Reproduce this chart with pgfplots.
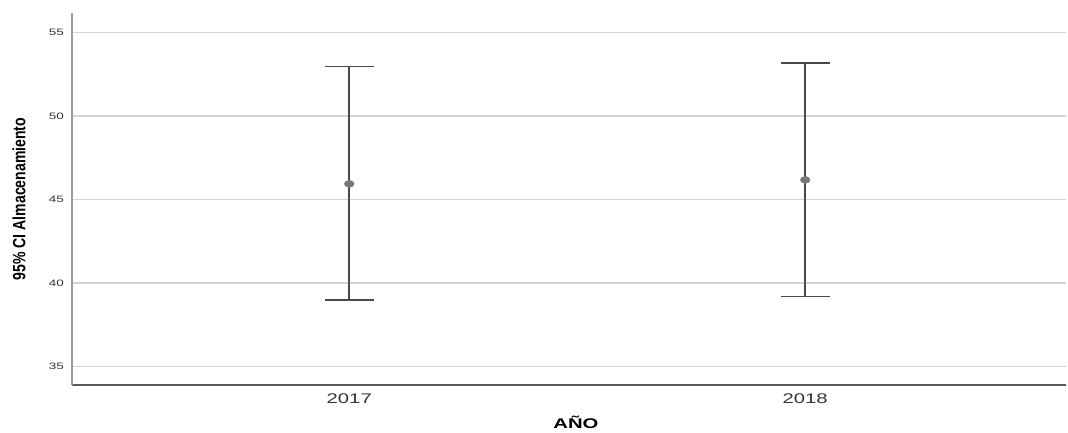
\documentclass[border=0pt]{standalone}
\usepackage{pgfplots}
\pgfplotsset{compat=1.18}
\usepackage{fontspec}
\setmainfont{Liberation Sans}
\newfontfamily\wideface[FakeStretch=1.45]{Liberation Sans}
\newfontfamily\narrowface[FakeStretch=0.79]{Liberation Sans}

\definecolor{gridgray}{HTML}{D4D4D4}
\definecolor{bargray}{HTML}{4A4A4A}
\definecolor{dotgray}{HTML}{777777}
\definecolor{ticktext}{HTML}{333333}

\begin{document}
\begin{tikzpicture}
\useasboundingbox (-72pt,-47pt) rectangle (996pt,385pt);
\begin{axis}[
  at={(0,0)}, anchor=south west,
  scale only axis,
  width=994pt, height=372pt,
  xmin=-0.608, xmax=1.572,
  ymin=33.88, ymax=56.17,
  xtick={0,1}, xticklabels={2017,2018},
  ytick={35,40,45,50,55},
  major tick length=0pt,
  /pgf/number format/assume math mode=true,
  axis lines*=left,
  x axis line style={-, draw=black!65, line width=1.3pt},
  y axis line style={-, draw=black!40, line width=1.6pt},
  ymajorgrids,
  grid style={draw=gridgray, line width=1.3pt},
  xticklabel style={font=\wideface\fontsize{14}{16}\selectfont, text=ticktext, inner sep=0pt, anchor=north, yshift=-9pt},
  yticklabel style={font=\wideface\fontsize{9.3}{11}\selectfont, text=ticktext, inner sep=0pt, anchor=east, xshift=-8pt},
  xlabel={AÑO},
  ylabel={95\% CI Almacenamiento},
  xlabel style={font=\wideface\bfseries\fontsize{14}{16}\selectfont, at={(axis description cs:0.507,-0.118)}, anchor=base, inner sep=0pt},
  ylabel style={font=\narrowface\bfseries\fontsize{17.8}{20}\selectfont, at={(axis description cs:-0.0533,0.5)}, anchor=center, inner sep=0pt},
  clip=false,
]
\addplot[
  only marks,
  mark=*,
  mark size=3.5pt,
  mark options={fill=dotgray, draw=dotgray, xscale=1.4},
  error bars/.cd,
    y dir=both, y explicit,
    error bar style={draw=bargray, line width=2.2pt},
    error mark options={draw=bargray, line width=1.5pt, mark size=24.5pt, rotate=90},
] table[x=x, y=m, y error plus=ep, y error minus=em] {
x m     ep    em
0 45.93 7.03  6.97
1 46.17 6.99  6.98
};
\end{axis}
\end{tikzpicture}
\end{document}
